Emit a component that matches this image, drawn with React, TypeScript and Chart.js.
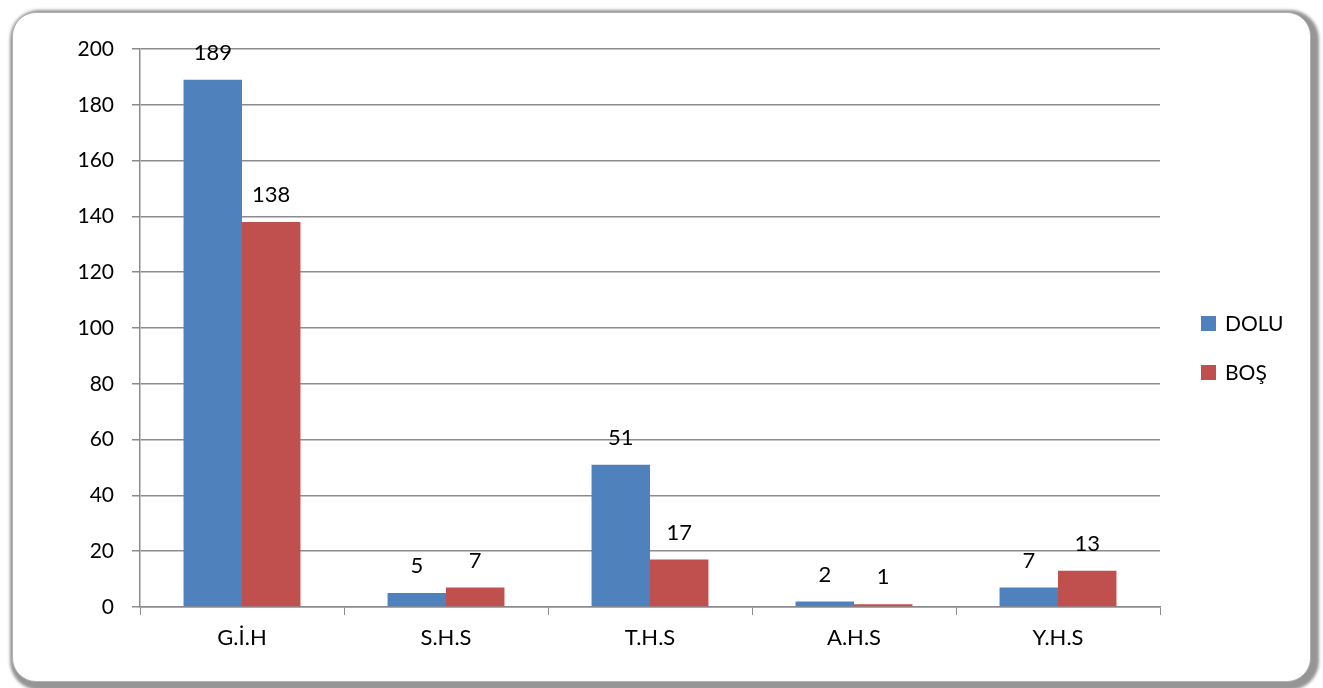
import React, { useEffect, useRef } from "react";
import { Chart, registerables } from "chart.js";

Chart.register(...registerables);

const categories = ["G.İ.H", "S.H.S", "T.H.S", "A.H.S", "Y.H.S"];
const doluValues = [189, 5, 51, 2, 7];
const bosValues = [138, 7, 17, 1, 13];
const seriesNames = ["DOLU", "BOŞ"];
const yMin = 0;
const yMax = 200;
const yStep = 20;

const FONT = "Lato, 'Open Sans', sans-serif";
const GRID = "#8c8c8c";

const valueLabels = {
  id: "valueLabels",
  afterDatasetsDraw(chart: any) {
    const ctx = chart.ctx;
    ctx.save();
    ctx.font = `22px ${FONT}`;
    ctx.fillStyle = "#000";
    ctx.textAlign = "center";
    ctx.textBaseline = "middle";
    chart.data.datasets.forEach((ds: any, i: number) => {
      const meta = chart.getDatasetMeta(i);
      meta.data.forEach((bar: any, j: number) => {
        ctx.fillText(String(ds.data[j]), bar.x, bar.y - 27);
      });
    });
    ctx.restore();
  },
};

const sideLegend = {
  id: "sideLegend",
  afterDraw(chart: any) {
    const ctx = chart.ctx;
    const area = chart.chartArea;
    ctx.save();
    ctx.font = `21px ${FONT}`;
    ctx.textBaseline = "middle";
    ctx.textAlign = "left";
    chart.data.datasets.forEach((ds: any, i: number) => {
      const cy = 323 + i * 49;
      const x = area.right + 41;
      ctx.fillStyle = ds.backgroundColor;
      ctx.fillRect(x, cy - 7, 15, 15);
      ctx.fillStyle = "#000";
      ctx.fillText(ds.label, x + 24, cy + 1);
    });
    ctx.restore();
  },
};

export default function App() {
  const ref = useRef<HTMLCanvasElement>(null);
  useEffect(() => {
    document.body.style.margin = "0";
    const chart = new Chart(ref.current as HTMLCanvasElement, {
      type: "bar",
      data: {
        labels: categories,
        datasets: [
          { label: seriesNames[0], data: doluValues, backgroundColor: "#4F81BD" },
          { label: seriesNames[1], data: bosValues, backgroundColor: "#C0504D" },
        ],
      },
      options: {
        animation: false,
        responsive: false,
        layout: { padding: { left: 48, right: 163, top: 49, bottom: 20 } },
        plugins: { legend: { display: false }, tooltip: { enabled: false } },
        datasets: { bar: { categoryPercentage: 0.573, barPercentage: 1.0 } } as any,
        scales: {
          x: {
            grid: { display: true, drawOnChartArea: false, color: GRID, tickLength: 8, offset: true },
            border: { color: GRID, width: 1.5 },
            ticks: { color: "#000", font: { family: FONT, size: 22 }, padding: 10 },
            afterFit: (s: any) => { s.height = 61; },
          },
          y: {
            min: yMin,
            max: yMax,
            ticks: { stepSize: yStep, color: "#000", font: { family: FONT, size: 21 }, padding: 18 },
            grid: { color: GRID, tickLength: 8, lineWidth: 1.5 },
            border: { color: GRID, width: 1.5 },
            afterFit: (s: any) => { s.width = 92; },
          },
        },
      },
      plugins: [valueLabels, sideLegend],
    });
    return () => chart.destroy();
  }, []);

  return (
    <div style={{ position: "fixed", left: 0, top: 0, width: 1323, height: 688, background: "#fff", overflow: "hidden" }}>
      <div
        style={{
          position: "absolute",
          left: 12,
          top: 12,
          width: 1299,
          height: 670,
          borderRadius: 24,
          background: "#fff",
          border: "1px solid #b0b0b0",
          boxShadow: "3px 3px 3px 5px rgba(130,130,130,0.85)",
          boxSizing: "border-box",
        }}
      />
      <canvas ref={ref} width={1323} height={688} style={{ position: "absolute", left: 0, top: 0 }} />
    </div>
  );
}
